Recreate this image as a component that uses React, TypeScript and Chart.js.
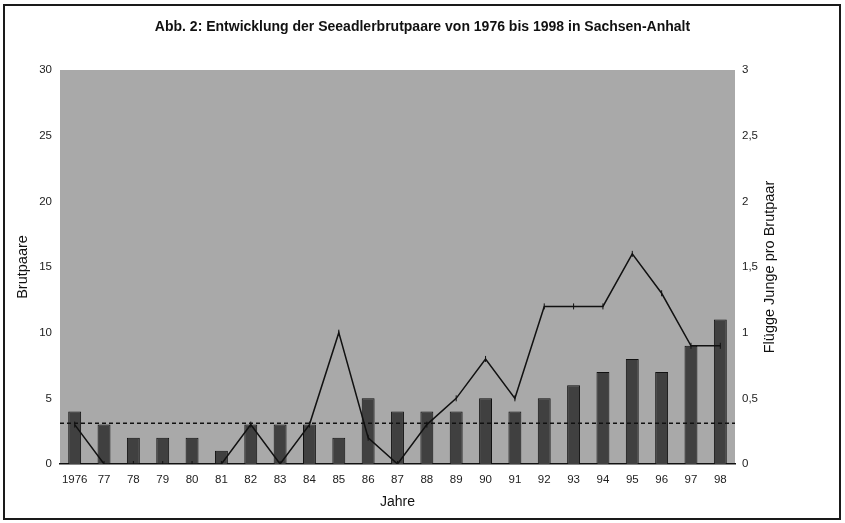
import React, { useEffect, useRef } from 'react';
import { Chart, registerables } from 'chart.js';

Chart.register(...registerables);

const YEARS = ['1976', '77', '78', '79', '80', '81', '82', '83', '84', '85', '86', '87', '88', '89', '90', '91', '92', '93', '94', '95', '96', '97', '98'];
const BRUTPAARE = [4, 3, 2, 2, 2, 1, 3, 3, 3, 2, 5, 4, 4, 4, 5, 4, 5, 6, 7, 8, 7, 9, 11];
const FLUEGGE_JUNGE = [0.3, 0, 0, 0, 0, 0, 0.3, 0, 0.3, 1.0, 0.2, 0, 0.3, 0.5, 0.8, 0.5, 1.2, 1.2, 1.2, 1.6, 1.3, 0.9, 0.9];
const REFERENZ_WERT = 0.31;

const TITLE = 'Abb. 2: Entwicklung der Seeadlerbrutpaare von 1976 bis 1998 in Sachsen-Anhalt';
const X_TITLE = 'Jahre';
const Y_LEFT_TITLE = 'Brutpaare';
const Y_RIGHT_TITLE = 'Flügge Junge pro Brutpaar';

const FONT = "'Liberation Sans', Arial, sans-serif";

const plotBackground = {
  id: 'plotBackground',
  beforeDraw(chart: any) {
    const { ctx, chartArea } = chart;
    ctx.save();
    ctx.fillStyle = '#a9a9a9';
    ctx.fillRect(chartArea.left, chartArea.top, chartArea.right - chartArea.left, chartArea.bottom - chartArea.top);
    ctx.restore();
  },
};

const refLine = {
  id: 'refLine',
  afterDatasetsDraw(chart: any) {
    const { ctx, chartArea, scales } = chart;
    const y = scales.y1.getPixelForValue(REFERENZ_WERT);
    ctx.save();
    ctx.strokeStyle = '#111';
    ctx.lineWidth = 1.5;
    ctx.setLineDash([4, 3]);
    ctx.beginPath();
    ctx.moveTo(chartArea.left, y);
    ctx.lineTo(chartArea.right, y);
    ctx.stroke();
    ctx.restore();
  },
};

const rightTitle = {
  id: 'rightTitle',
  afterDraw(chart: any) {
    const { ctx, chartArea } = chart;
    ctx.save();
    ctx.translate(770, (chartArea.top + chartArea.bottom) / 2);
    ctx.rotate(-Math.PI / 2);
    ctx.font = `14.5px ${FONT}`;
    ctx.fillStyle = '#111';
    ctx.textAlign = 'center';
    ctx.textBaseline = 'middle';
    ctx.fillText(Y_RIGHT_TITLE, 0, 0);
    ctx.restore();
  },
};

export default function App() {
  const ref = useRef<HTMLCanvasElement>(null);

  useEffect(() => {
    if (!ref.current) return;
    const chart = new Chart(ref.current, {
      type: 'bar',
      data: {
        labels: YEARS,
        datasets: [
          {
            type: 'line',
            label: Y_RIGHT_TITLE,
            data: FLUEGGE_JUNGE,
            yAxisID: 'y1',
            borderColor: '#111',
            borderWidth: 1.5,
            tension: 0,
            pointStyle: 'line',
            pointRotation: 90,
            pointRadius: 3,
            pointBorderWidth: 1,
            pointBorderColor: '#111',
            order: 0,
          } as any,
          {
            type: 'bar',
            label: Y_LEFT_TITLE,
            data: BRUTPAARE,
            yAxisID: 'y',
            backgroundColor: '#404040',
            borderColor: '#111',
            borderWidth: 1,
            barPercentage: 0.44,
            categoryPercentage: 1,
            order: 1,
          },
        ],
      },
      options: {
        responsive: false,
        animation: false,
        layout: { padding: 0 },
        plugins: {
          legend: { display: false },
          tooltip: { enabled: false },
          title: {
            display: true,
            text: TITLE,
            color: '#111',
            font: { family: FONT, size: 14, weight: 'bold' },
            padding: { top: 18.6, bottom: 34.6 },
          },
        },
        scales: {
          x: {
            grid: { display: false, drawTicks: false },
            border: { display: true, color: '#111', width: 1.5 },
            ticks: { color: '#222', font: { family: FONT, size: 11.5 }, padding: 9, maxRotation: 0, autoSkip: false },
            title: { display: true, text: X_TITLE, color: '#111', font: { family: FONT, size: 14 }, padding: { top: 0, bottom: 12 } },
            afterFit(scale: any) { scale.height = 59; },
          },
          y: {
            position: 'left',
            min: 0,
            max: 30,
            ticks: { stepSize: 5, color: '#222', font: { family: FONT, size: 11.5 }, padding: 8 },
            grid: { display: false, drawTicks: false },
            border: { display: false },
            title: { display: true, text: Y_LEFT_TITLE, color: '#111', font: { family: FONT, size: 14.5 }, padding: { top: 14, bottom: 0 } },
            afterFit(scale: any) { scale.width = 60; },
          },
          y1: {
            position: 'right',
            min: 0,
            max: 3,
            ticks: {
              stepSize: 0.5,
              color: '#222',
              font: { family: FONT, size: 11.5 },
              padding: 7,
              callback: (v: any) => String(v).replace('.', ','),
            },
            grid: { display: false, drawTicks: false },
            border: { display: false },
            afterFit(scale: any) { scale.width = 110; },
          },
        },
      },
      plugins: [plotBackground, refLine, rightTitle],
    });
    return () => chart.destroy();
  }, []);

  return (
    <div style={{ position: 'fixed', left: 0, top: 0, width: 845, height: 523, background: '#fff' }}>
      <canvas ref={ref} width={845} height={523} style={{ display: 'block', position: 'absolute', left: 0, top: 0 }} />
      <div
        style={{
          position: 'absolute',
          left: 3,
          top: 4,
          width: 838,
          height: 516,
          border: '2px solid #1a1a1a',
          boxSizing: 'border-box',
          pointerEvents: 'none',
        }}
      />
    </div>
  );
}
